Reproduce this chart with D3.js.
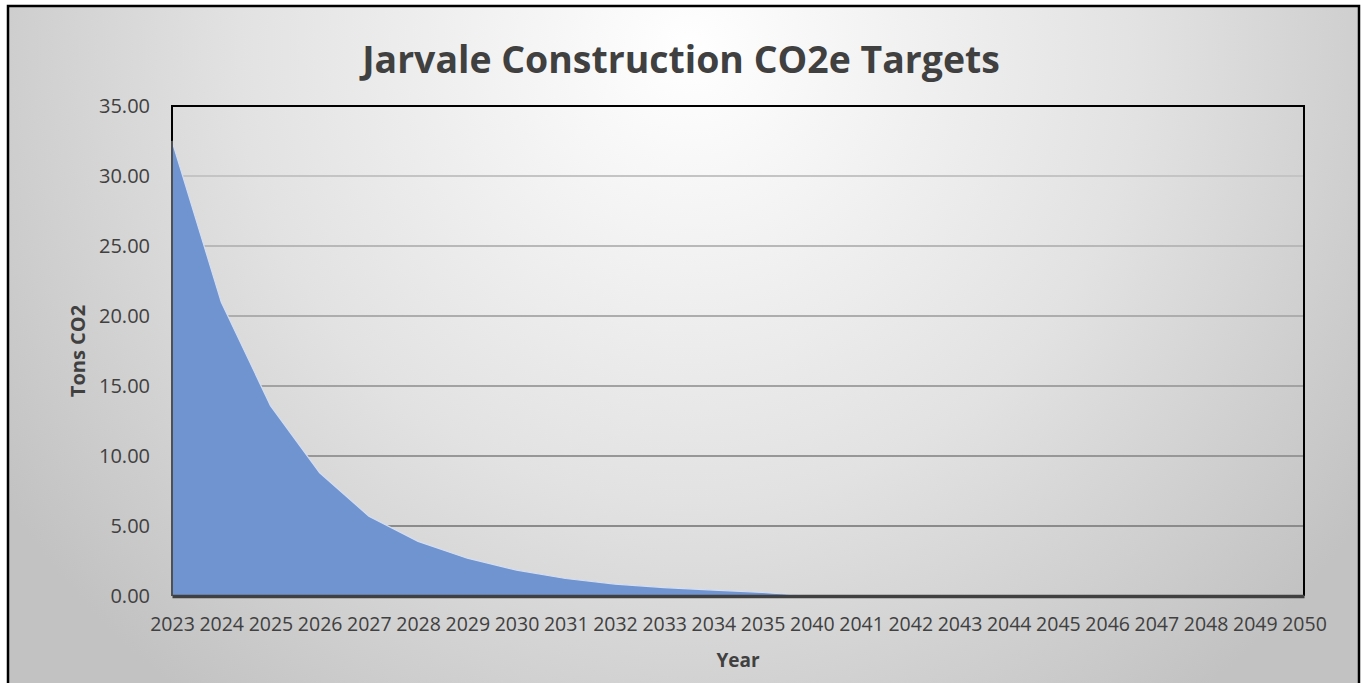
<!DOCTYPE html>
<html>
<head>
<meta charset="utf-8">
<script src="https://cdn.jsdelivr.net/npm/d3@7"></script>
<style>
  body { margin: 0; background: #fff; }
  svg { display: block; font-family: "Open Sans", "Liberation Sans", sans-serif; }
</style>
</head>
<body>
<svg id="chart"></svg>
<script>
const years = ["2023", "2024", "2025", "2026", "2027", "2028", "2029", "2030", "2031", "2032", "2033", "2034", "2035",
  "2040", "2041", "2042", "2043", "2044", "2045", "2046", "2047", "2048", "2049", "2050"];
const tons = [32.5, 21.0, 13.6, 8.8, 5.7, 3.9, 2.7, 1.85, 1.25, 0.85, 0.6, 0.42, 0.25,
  0, 0, 0, 0, 0, 0, 0, 0, 0, 0, 0];
const yTicks = [0, 5, 10, 15, 20, 25, 30, 35];

const width = 1362, height = 683;
const margin = { top: 106, right: 58, bottom: 87, left: 172 };

const svg = d3.select("#chart")
  .attr("width", width)
  .attr("height", height);

// background gradient, light near the title and greyer at the edges
const defs = svg.append("defs");
const bg = defs.append("radialGradient")
  .attr("id", "bg")
  .attr("gradientUnits", "userSpaceOnUse")
  .attr("cx", 690).attr("cy", 50).attr("r", 820);
bg.append("stop").attr("offset", "0").attr("stop-color", "#ffffff");
bg.append("stop").attr("offset", "0.55").attr("stop-color", "#e2e2e2");
bg.append("stop").attr("offset", "1").attr("stop-color", "#c2c2c2");

svg.append("rect")
  .attr("x", 8).attr("y", 6)
  .attr("width", 1351).attr("height", 700)
  .attr("fill", "url(#bg)")
  .attr("stroke", "#000")
  .attr("stroke-width", 2.5);

const x = d3.scalePoint()
  .domain(years)
  .range([margin.left, width - margin.right]);

const y = d3.scaleLinear()
  .domain([0, 35])
  .range([height - margin.bottom, margin.top]);

const gridColor = d3.scaleLinear().domain([0, 35]).range(["#808080", "#cfcfcf"]);

// gridlines
svg.append("g")
  .selectAll("line")
  .data(yTicks.filter(d => d > 0 && d < 35))
  .enter()
  .append("line")
  .attr("x1", margin.left)
  .attr("x2", width - margin.right)
  .attr("y1", d => y(d))
  .attr("y2", d => y(d))
  .attr("stroke", d => gridColor(d))
  .attr("stroke-width", 2);

// plot area border (top, left, right)
svg.append("path")
  .attr("d", `M${margin.left},${height - margin.bottom}V${margin.top}H${width - margin.right}V${height - margin.bottom}`)
  .attr("fill", "none")
  .attr("stroke", "#000")
  .attr("stroke-width", 2);

const area = d3.area()
  .x((d, i) => x(years[i]))
  .y0(y(0))
  .y1(d => y(d));

const line = d3.line()
  .x((d, i) => x(years[i]))
  .y(d => y(d));

svg.append("path")
  .datum(tons)
  .attr("d", area)
  .attr("fill", "#7094d0");

svg.append("path")
  .datum(tons)
  .attr("d", line)
  .attr("fill", "none")
  .attr("stroke", "#d3def2")
  .attr("stroke-width", 1.2);

// y axis line under the area
svg.append("line")
  .attr("x1", margin.left).attr("x2", margin.left)
  .attr("y1", y(tons[0])).attr("y2", y(0))
  .attr("stroke", "#505050")
  .attr("stroke-width", 2);

// x axis
const xAxis = svg.append("g")
  .attr("transform", `translate(0,${y(0)})`)
  .call(d3.axisBottom(x).tickSize(0).tickPadding(21));
xAxis.select(".domain")
  .attr("stroke", "#404040")
  .attr("stroke-width", 3.5);
xAxis.selectAll("text")
  .attr("fill", "#404040")
  .attr("font-size", 19.5)
  .attr("font-family", "Open Sans, sans-serif");

// y axis
const yAxis = svg.append("g")
  .attr("transform", `translate(${margin.left},0)`)
  .call(d3.axisLeft(y).tickValues(yTicks).tickFormat(d3.format(".2f")).tickSize(0).tickPadding(22));
yAxis.select(".domain").remove();
yAxis.selectAll("text")
  .attr("fill", "#404040")
  .attr("font-size", 20)
  .attr("font-family", "Open Sans, sans-serif");

// titles
const title = svg.append("text")
  .attr("x", 0)
  .attr("y", 0)
  .attr("text-anchor", "middle")
  .attr("font-size", 38)
  .attr("font-weight", "bold")
  .attr("fill", "#404040")
  .text("Jarvale Construction CO2e Targets");
// squeeze horizontally to the width of the original (narrower) title font
const tw = title.node().getComputedTextLength();
title.attr("transform", `translate(681,73) scale(${Math.min(1, 638 / tw)},1)`);

svg.append("text")
  .attr("transform", `translate(85,${(y(0) + y(35)) / 2}) rotate(-90)`)
  .attr("text-anchor", "middle")
  .attr("font-size", 20)
  .attr("font-weight", "bold")
  .attr("fill", "#404040")
  .text("Tons CO2");

svg.append("text")
  .attr("x", (x(years[0]) + x(years[years.length - 1])) / 2)
  .attr("y", 667)
  .attr("text-anchor", "middle")
  .attr("font-size", 19)
  .attr("font-weight", "bold")
  .attr("fill", "#404040")
  .text("Year");
</script>
</body>
</html>
